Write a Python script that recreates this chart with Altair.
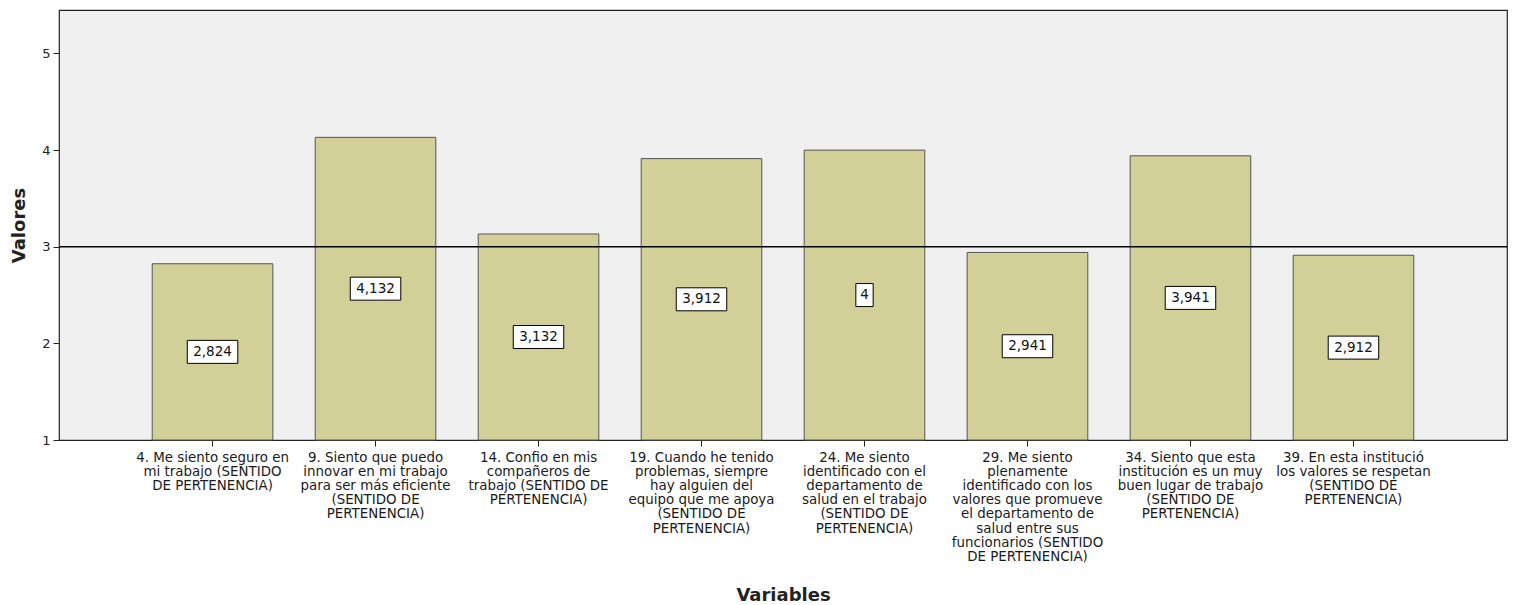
import altair as alt
import pandas as pd

categories = [
    "4. Me siento seguro en|mi trabajo (SENTIDO|DE PERTENENCIA)",
    "9. Siento que puedo|innovar en mi trabajo|para ser más eficiente|(SENTIDO DE|PERTENENCIA)",
    "14. Confio en mis|compañeros de|trabajo (SENTIDO DE|PERTENENCIA)",
    "19. Cuando he tenido|problemas, siempre|hay alguien del|equipo que me apoya|(SENTIDO DE|PERTENENCIA)",
    "24. Me siento|identificado con el|departamento de|salud en el trabajo|(SENTIDO DE|PERTENENCIA)",
    "29. Me siento|plenamente|identificado con los|valores que promueve|el departamento de|salud entre sus|funcionarios (SENTIDO|DE PERTENENCIA)",
    "34. Siento que esta|institución es un muy|buen lugar de trabajo|(SENTIDO DE|PERTENENCIA)",
    "39. En esta institució|los valores se respetan|(SENTIDO DE|PERTENENCIA)",
]
values = [2.824, 4.132, 3.132, 3.912, 4.0, 2.941, 3.941, 2.912]
value_labels = ["2,824", "4,132", "3,132", "3,912", "4", "2,941", "3,941", "2,912"]
reference_value = 3

FONT = "DejaVu Sans"


def box_path(label):
    w = 8.3 * len(label) + 9
    h = 23
    r = h / w
    return f"M -1 {-r:.4f} L 1 {-r:.4f} L 1 {r:.4f} L -1 {r:.4f} Z", w * w


shapes = [box_path(l) for l in value_labels]
df = pd.DataFrame({
    "cat": categories,
    "value": values,
    "label": value_labels,
    "shape": [s[0] for s in shapes],
    "size": [s[1] for s in shapes],
})

ydom = [1, 5.45]
x = alt.X(
    "cat:N",
    sort=None,
    title="Variables",
    scale=alt.Scale(paddingInner=0.26, paddingOuter=0.572),
    axis=alt.Axis(
        labelExpr="split(datum.label, '|')",
        labelAngle=0,
        labelFont=FONT,
        labelFontSize=13.4,
        labelLineHeight=14.2,
        labelColor="#1a1a1a",
        labelBaseline="top",
        labelPadding=4,
        labelLimit=300,
        tickColor="#222222",
        tickSize=6,
        domain=False,
        titleFont=FONT,
        titleFontSize=18,
        titleFontWeight="bold",
        titleColor="#222222",
        titlePadding=24,
    ),
)
yscale = alt.Scale(domain=ydom, zero=False, nice=False)

bars = alt.Chart(df).mark_bar(
    color="#d3cf98", stroke="#555555", strokeWidth=1
).encode(
    x=x,
    y=alt.Y(
        "value:Q",
        scale=yscale,
        title="Valores",
        axis=alt.Axis(
            values=[1, 2, 3, 4, 5],
            format="d",
            grid=False,
            domain=False,
            tickColor="#222222",
            tickSize=6,
            labelFont=FONT,
            labelFontSize=13,
            labelColor="#222222",
            labelPadding=3,
            titleFont=FONT,
            titleFontSize=18,
            titleFontWeight="bold",
            titleColor="#222222",
            titlePadding=13,
        ),
    ),
    y2=alt.datum(1),
)

rule = alt.Chart(pd.DataFrame({"ref": [reference_value]})).mark_rule(
    color="#000000", strokeWidth=1.5
).encode(y=alt.Y("ref:Q", scale=yscale))

base_mid = alt.Chart(df).transform_calculate(mid="(datum.value + 1) / 2")

boxes = base_mid.mark_point(
    filled=True, fill="#ffffff", stroke="#000000", strokeWidth=1, opacity=1
).encode(
    x=alt.X("cat:N", sort=None),
    y=alt.Y("mid:Q", scale=yscale),
    shape=alt.Shape("shape:N", scale=None),
    size=alt.Size("size:Q", scale=None),
)

texts = base_mid.mark_text(
    font=FONT, fontSize=13.5, color="#111111", baseline="middle", align="center"
).encode(
    x=alt.X("cat:N", sort=None),
    y=alt.Y("mid:Q", scale=yscale),
    text="label:N",
)

chart = alt.layer(bars, rule, boxes, texts).properties(
    width=1448,
    height=430,
    padding={"left": 2, "top": 2, "right": 0, "bottom": 0},
    background="#ffffff",
).configure_view(
    fill="#f0f0f0", stroke="#222222", strokeWidth=1.2
)

chart.save("out.html", embed_options={"renderer": "svg", "actions": False})
